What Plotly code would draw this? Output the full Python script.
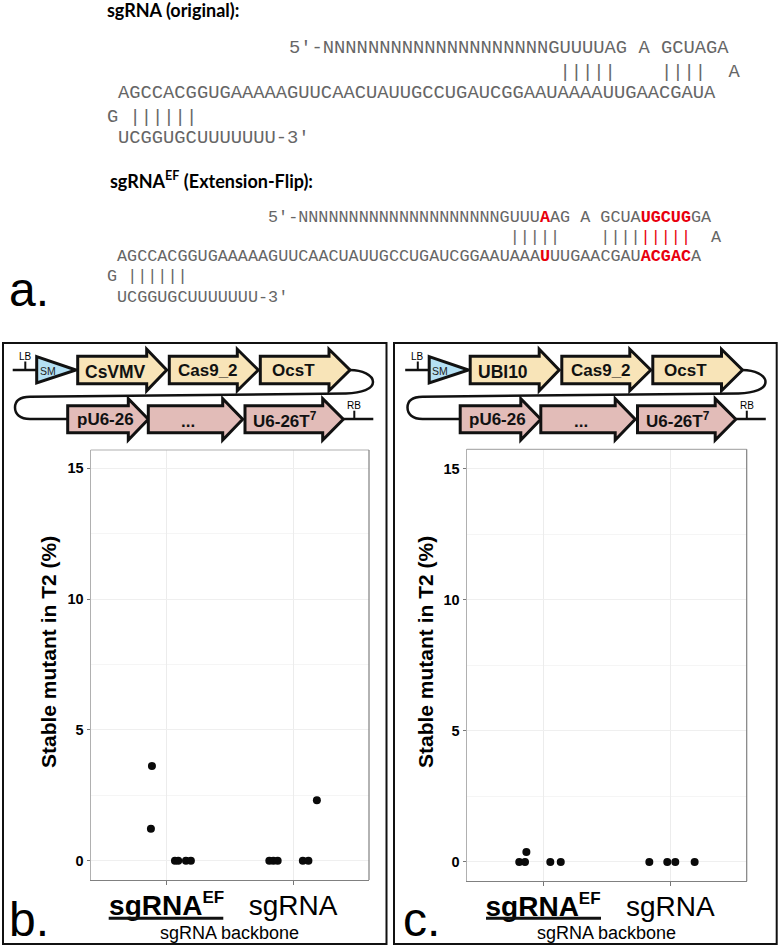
import plotly.graph_objects as go

W, H = 780, 948

categories = [0, 1]
cat_labels = ['<b>sgRNA<sup><span style="font-size:17px">EF</span></sup></b>', "sgRNA"]
y_ticks = [0, 5, 10, 15]
y_minor = [2.5, 7.5, 12.5]

b_x = [-0.116, -0.124, 0.066, 0.092, 0.153, 0.192, 0.812, 0.844, 0.878, 1.077, 1.121, 1.188]
b_y = [3.62, 1.22, 0, 0, 0, 0, 0, 0, 0, 0, 0, 2.31]
c_x = [-0.187, -0.142, -0.131, 0.057, 0.139, 0.835, 0.976, 1.039, 1.191]
c_y = [0, 0, 0.38, 0, 0, 0, 0, 0, 0]

NBSP = "\u00a0"
R0 = '<span style="color:#e8000d"><b>'
R1 = '</b></span>'
orig_lines = [
    "5\u2032-" + "N" * 20 + "GUUUUAG A GCUAGA",
    " " * 24 + "|||||    ||||  A",
    "AGCCACGGUGAAAAAGUUCAACUAUUGCCUGAUCGGAAUAAAAUUGAACGAUA",
    "G ||||||",
    "UCGGUGCUUUUUUU-3\u2032",
]
ef_lines = [
    "5\u2032-" + "N" * 20 + "GUUU" + R0 + "A" + R1 + "AG A GCUA" + R0 + "UGCUG" + R1 + "GA",
    " " * 24 + "|||||    ||||" + '<span style="color:#e8000d">|||||</span>' + "  A",
    "AGCCACGGUGAAAAAGUUCAACUAUUGCCUGAUCGGAAUAAA" + R0 + "U" + R1 + "UUGAACGAU" + R0 + "ACGAC" + R1 + "A",
    "G ||||||",
    "UCGGUGCUUUUUUU-3\u2032",
]


def px(x):
    return x / W


def py(y):
    return 1 - y / H


annotations = []
shapes = []


def text(x, y, s, size, color="#000", family="Liberation Sans", xanchor="center", yanchor="middle", angle=0):
    annotations.append(dict(
        x=px(x), y=py(y), xref="paper", yref="paper", text=s, showarrow=False,
        xanchor=xanchor, yanchor=yanchor, textangle=angle, borderpad=0, borderwidth=0,
        font=dict(family=family, size=size, color=color),
    ))


def path(points_path, fill="rgba(0,0,0,0)", line="#111", width=3):
    shapes.append(dict(type="path", xref="paper", yref="paper", path=points_path,
                       fillcolor=fill, line=dict(color=line, width=width), layer="above"))


def arrow(x0, xh, xt, yc, ht, hh, fill):
    pts = [(x0, yc - ht), (xh, yc - ht), (xh, yc - hh), (xt, yc), (xh, yc + hh), (xh, yc + ht), (x0, yc + ht)]
    p = "M " + " L ".join(f"{px(a):.5f},{py(b):.5f}" for a, b in pts) + " Z"
    path(p, fill=fill)


def curve(seq, width=3):
    out = []
    for cmd, coords in seq:
        out.append(cmd + " " + " ".join(f"{px(a):.5f},{py(b):.5f}" for a, b in coords))
    path(" ".join(out), width=width)


def seg(x0, y0, x1, y1, color="#111", width=2.5, layer="above"):
    shapes.append(dict(type="line", xref="paper", yref="paper", x0=px(x0), x1=px(x1), y0=py(y0), y1=py(y1),
                       line=dict(color=color, width=width), layer=layer))


def frame_rect(x0, y0, x1, y1):
    shapes.append(dict(type="rect", xref="paper", yref="paper", x0=px(x0), x1=px(x1), y0=py(y0), y1=py(y1),
                       line=dict(color="#111", width=2), layer="below"))


CREAM = "#f8e4b8"
PINK = "#e2bcb8"
BLUE = "#b5e0f3"


def schematic(dx, first_label, first_cx):
    seg(12.7 + dx, 370, 36.7 + dx, 370)
    seg(25.3 + dx, 361.5, 25.3 + dx, 370, width=2)
    text(25.3 + dx, 356, "LB", 10)
    p = "M " + " L ".join(f"{px(a + dx):.5f},{py(b):.5f}" for a, b in [(36.7, 356.7), (76, 370), (36.7, 383)]) + " Z"
    path(p, fill=BLUE)
    text(47.7 + dx, 370.5, "SM", 10.5, color="#222")
    curve([
        ("M", [(350 + dx, 370)]),
        ("C", [(362 + dx, 370), (373 + dx, 375), (373 + dx, 382)]),
        ("C", [(373 + dx, 389), (362 + dx, 393), (346 + dx, 393.5)]),
        ("L", [(30 + dx, 396.7)]),
        ("C", [(20 + dx, 396.9), (15 + dx, 401), (15 + dx, 407.5)]),
        ("C", [(15 + dx, 414), (20 + dx, 419), (30 + dx, 419)]),
        ("L", [(68 + dx, 419)]),
    ], 2.5)
    seg(343.3 + dx, 419, 373.3 + dx, 419)
    seg(354.3 + dx, 410.7, 354.3 + dx, 419, width=2)
    text(354.3 + dx, 405.5, "RB", 10)
    arrow(77.7 + dx, 146.7 + dx, 166.7 + dx, 370, 13.7, 20.7, CREAM)
    arrow(169.3 + dx, 237.3 + dx, 258.3 + dx, 370, 13.7, 20.7, CREAM)
    arrow(260.3 + dx, 329 + dx, 350 + dx, 370, 13.7, 20.7, CREAM)
    arrow(67.7 + dx, 128.3 + dx, 148.3 + dx, 419.3, 13.5, 20.7, PINK)
    arrow(148.3 + dx, 222.7 + dx, 242.7 + dx, 419.3, 13.5, 20.7, PINK)
    arrow(245 + dx, 322.7 + dx, 343.3 + dx, 419.3, 13.5, 20.7, PINK)
    text(first_cx, 371.5, "<b>" + first_label + "</b>", 17.5, color="#111")
    text(208.3 + dx, 370, "<b>Cas9_2</b>", 17, color="#111")
    text(293 + dx, 371, "<b>OcsT</b>", 17, color="#111")
    text(105 + dx, 419, "<b>pU6-26</b>", 17, color="#111")
    text(188 + dx, 421, "<b>...</b>", 17, color="#111")
    text(285 + dx, 420, "<b>U6-26T<sup>7</sup></b>", 17, color="#111")


fig = go.Figure()

panels = [
    dict(xd=(90.7, 369), yd=(450, 880), yr=(-0.735, 15.7), xs=b_x, ys=b_y),
    dict(xd=(466.7, 746.7), yd=(449.3, 881.3), yr=(-0.737, 15.75), xs=c_x, ys=c_y),
]
for i, p in enumerate(panels):
    n = "" if i == 0 else "2"
    fig.add_trace(go.Scatter(x=p["xs"], y=p["ys"], mode="markers", xaxis="x" + n, yaxis="y" + n,
                             marker=dict(color="#0a0a0a", size=8), showlegend=False, hoverinfo="skip"))
    fig.update_layout({
        "xaxis" + n: dict(
            domain=[px(p["xd"][0]), px(p["xd"][1])], range=[-0.6, 1.6], anchor="y" + n,
            tickmode="array", tickvals=categories, ticktext=cat_labels,
            tickfont=dict(family="Liberation Sans", size=28, color="#000"),
            ticks="outside", ticklen=4, tickcolor="#777", tickwidth=1, ticklabelstandoff=-4,
            showgrid=True, gridcolor="#ececec", gridwidth=1, zeroline=False,
            showline=True, linecolor="#808080", linewidth=1.2, tickangle=0,
        ),
        "yaxis" + n: dict(
            domain=[py(p["yd"][1]), py(p["yd"][0])], range=list(p["yr"]), anchor="x" + n,
            tickmode="array", tickvals=y_ticks, ticktext=["<b>%d</b>" % v for v in y_ticks],
            tickfont=dict(family="Liberation Sans", size=14.5, color="#000"),
            ticks="outside", ticklen=3, tickcolor="#777", tickwidth=1,
            showgrid=True, gridcolor="#efefef", gridwidth=1, zeroline=False,
            minor=dict(tickvals=y_minor, showgrid=True, gridcolor="#f5f5f5", gridwidth=1, ticks=""),
            showline=True, linecolor="#b0b0b0", linewidth=1.2,
        ),
    })
    seg(p["xd"][0], p["yd"][0], p["xd"][1], p["yd"][0], color="#b0b0b0", width=1.2)
    seg(p["xd"][1], p["yd"][0], p["xd"][1], p["yd"][1], color="#808080", width=1.2)

frame_rect(3, 343, 386.5, 944)
frame_rect(394, 343, 776.7, 944)
schematic(0, "CsVMV", 115)
schematic(392.5, "UBI10", 503.3)

# section a
text(107, 10, "<b>sgRNA (original):</b>", 18, family="Lato", xanchor="left")
text(110, 180, "<b>sgRNA<sup>EF</sup> (Extension-Flip):</b>", 18, family="Lato", xanchor="left")
mono = "Liberation Mono"
for s, x, y in zip(orig_lines, [289, 289, 118, 107, 118], [48, 72, 93, 117, 138]):
    text(x, y, s.replace(" ", NBSP), 18.8, color="#666", family=mono, xanchor="left")
for s, x, y in zip(ef_lines, [268, 268, 117, 107, 117], [217, 237, 256, 277, 297]):
    s2 = s.replace(" ", NBSP).replace("<span" + NBSP, "<span ").replace(NBSP + "style", " style")
    text(x, y, s2, 16.8, color="#666", family=mono, xanchor="left")

text(9, 290, "a.", 48, xanchor="left")
text(9, 919, "b.", 48, xanchor="left")
text(403, 919, "c.", 48, xanchor="left")

text(229.7, 933, "sgRNA backbone", 18)
text(606.7, 933, "sgRNA backbone", 18)
text(48, 652, "<b>Stable mutant in T2 (%)</b>", 21, angle=-90)
text(425, 652, "<b>Stable mutant in T2 (%)</b>", 21, angle=-90)

for a, b in [(108.7, 223.3), (486, 601)]:
    seg(a, 918.3, b, 918.3, width=3)

fig.update_layout(
    width=W, height=H, margin=dict(l=0, r=0, t=0, b=0), autosize=False,
    paper_bgcolor="white", plot_bgcolor="white", annotations=annotations, shapes=shapes,
)
fig.write_html("out.html", config={"displayModeBar": False},
               post_script="document.body.style.margin='0';document.documentElement.style.overflow='hidden';")
